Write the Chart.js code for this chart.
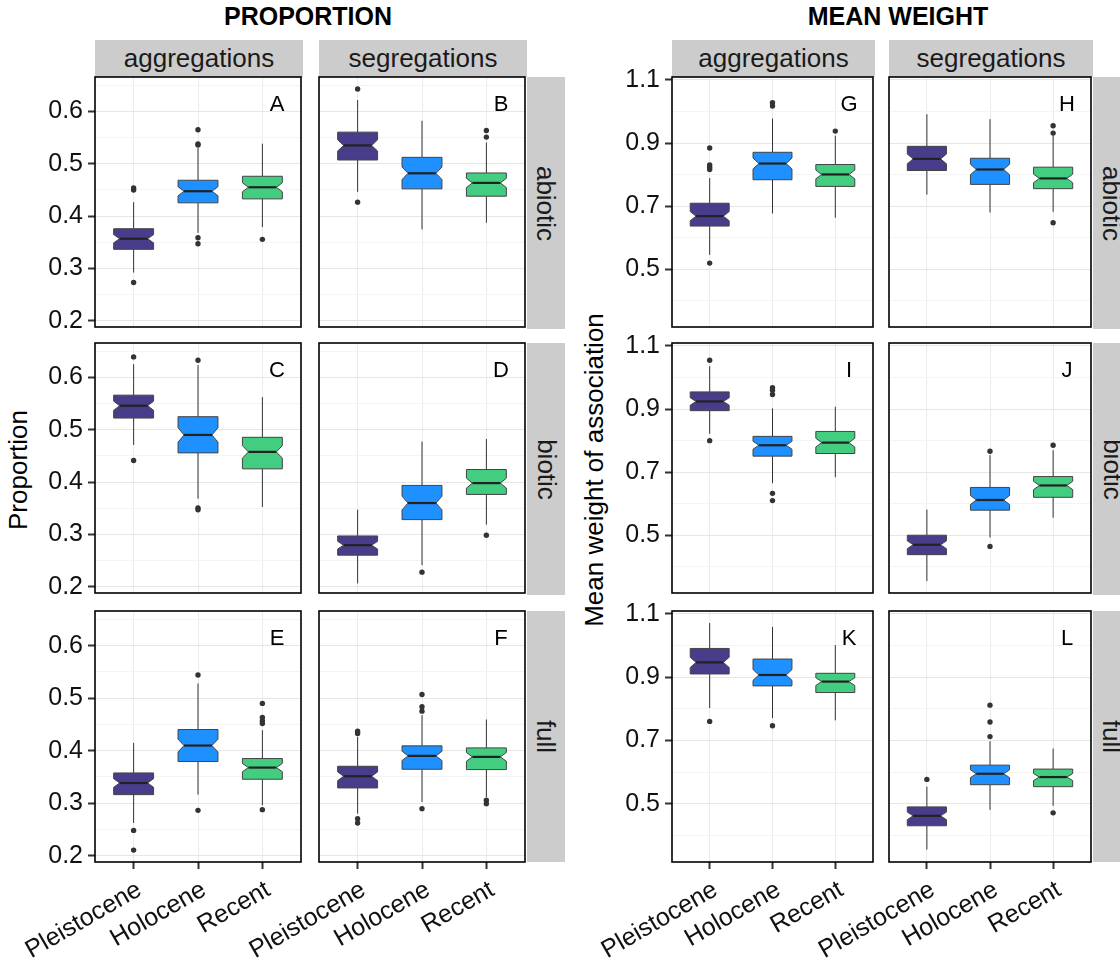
<!DOCTYPE html>
<html>
<head>
<meta charset="utf-8">
<script src="https://cdn.jsdelivr.net/npm/chart.js@4"></script>
<style>
	body { margin: 0; background: #fff; }
	#fig { position: relative; width: 1120px; height: 961px; overflow: hidden; background: #fff;
		font-family: 'Liberation Sans', Arial, sans-serif; color: #1a1a1a; }
	#fig canvas { position: absolute; }
	.strip { position: absolute; background: #cccccc; display: flex; align-items: center;
		justify-content: center; font-size: 26px; white-space: nowrap; }
	.strip.v span { transform: rotate(90deg); }
	.title { position: absolute; top: 4px; line-height: 25px; font-size: 25px; font-weight: bold;
		color: #000; transform: translateX(-50%); white-space: nowrap; }
	.ytitle { position: absolute; font-size: 26px; white-space: nowrap; color: #000;
		transform: translate(-50%, -50%) rotate(-90deg); }
</style>
</head>
<body>
<div id="fig"></div>
<script>
const categories = ['Pleistocene', 'Holocene', 'Recent'];
const boxColors = ['#483D8B', '#1E90FF', '#43CD80'];
const facetCols = ['aggregations', 'segregations'];
const facetRows = ['abiotic', 'biotic', 'full'];
const groupTitles = ['PROPORTION', 'MEAN WEIGHT'];
const axisTitles = ['Proportion', 'Mean weight of association'];
const panelLetters = [['A', 'B', 'C', 'D', 'E', 'F'], ['G', 'H', 'I', 'J', 'K', 'L']];

// y ticks / range per group
const propMajor = [0.2, 0.3, 0.4, 0.5, 0.6];
const propMinor = [0.25, 0.35, 0.45, 0.55, 0.65];
const propRange = [0.188, 0.666];
const weightMajor = [0.5, 0.7, 0.9, 1.1];
const weightMinor = [0.4, 0.6, 0.8, 1.0];
const weightRange = [0.3165, 1.1094];

// boxes: [lower whisker, q1, median, q3, upper whisker] for Pleistocene, Holocene, Recent
const propAbioticAgg = [[0.292, 0.3365, 0.3568, 0.3759, 0.4267], [0.368, 0.4254, 0.4476, 0.4686, 0.530], [0.379, 0.433, 0.4552, 0.4762, 0.5384]];
const propAbioticAggOut = [[0.454, 0.450, 0.273], [0.565, 0.5378, 0.536, 0.3587, 0.3473], [0.3556]];
const propAbioticSeg = [[0.4463, 0.5073, 0.5352, 0.5606, 0.622], [0.3746, 0.4521, 0.4819, 0.5124, 0.5822], [0.3873, 0.4381, 0.4635, 0.4825, 0.541]];
const propAbioticSegOut = [[0.643, 0.4267], [], [0.5638, 0.5511]];
const propBioticAgg = [[0.4711, 0.5225, 0.546, 0.5663, 0.6254], [0.3683, 0.4559, 0.4902, 0.5251, 0.6235], [0.3524, 0.4254, 0.4578, 0.4857, 0.5625]];
const propBioticAggOut = [[0.6394, 0.4413], [0.633, 0.3505, 0.3473], []];
const propBioticSeg = [[0.2063, 0.2603, 0.2794, 0.2971, 0.3473], [0.2413, 0.3283, 0.36, 0.3937, 0.4775], [0.3187, 0.3765, 0.3981, 0.4241, 0.4825]];
const propBioticSegOut = [[], [0.2279], [0.2984]];
const propFullAgg = [[0.2622, 0.3163, 0.3385, 0.3576, 0.4149], [0.3163, 0.3793, 0.4098, 0.4403, 0.5281], [0.2959, 0.3456, 0.3678, 0.385, 0.439]];
const propFullAggOut = [[0.2482, 0.2107], [0.544, 0.2864], [0.49, 0.4632, 0.4568, 0.4518, 0.2877]];
const propFullSeg = [[0.28, 0.329, 0.3513, 0.3703, 0.4263], [0.3023, 0.3646, 0.3901, 0.4092, 0.4677], [0.3118, 0.364, 0.3882, 0.4053, 0.4594]];
const propFullSegOut = [[0.4372, 0.4327, 0.2705, 0.2622], [0.5071, 0.4836, 0.4753, 0.2896], [0.3055, 0.2991]];

const weightAbioticAgg = [[0.5453, 0.6366, 0.6681, 0.709, 0.7888], [0.6765, 0.7835, 0.8349, 0.8706, 0.9776], [0.6629, 0.7625, 0.8003, 0.8318, 0.9231]];
const weightAbioticAggOut = [[0.8843, 0.8307, 0.8234, 0.816, 0.5191], [1.028, 1.0175], [0.9378]];
const weightAbioticSeg = [[0.7363, 0.8129, 0.8496, 0.8895, 0.9913], [0.6796, 0.7688, 0.8161, 0.8517, 0.9756], [0.6817, 0.7552, 0.7877, 0.8234, 0.9231]];
const weightAbioticSegOut = [[], [], [0.9546, 0.9315, 0.6471]];
const weightBioticAgg = [[0.8216, 0.8948, 0.924, 0.9543, 1.0358], [0.6649, 0.7506, 0.7851, 0.8133, 0.9021], [0.6837, 0.7589, 0.7934, 0.8289, 0.9073]];
const weightBioticAggOut = [[1.0547, 0.7997], [0.9679, 0.9596, 0.946, 0.6325, 0.6095], []];
const weightBioticSeg = [[0.3545, 0.4381, 0.4695, 0.4998, 0.5813], [0.4925, 0.5792, 0.6116, 0.6513, 0.7537], [0.5552, 0.62, 0.6576, 0.6858, 0.7694]];
const weightBioticSegOut = [[], [0.7662, 0.4643], [0.7851]];
const weightFullAgg = [[0.8026, 0.9105, 0.9471, 0.9911, 1.0717], [0.7712, 0.8728, 0.9073, 0.9576, 1.0592], [0.7639, 0.8518, 0.8864, 0.9126, 1.0016]];
const weightFullAggOut = [[0.7607], [0.7471], []];
const weightFullSeg = [[0.3555, 0.4309, 0.4623, 0.4906, 0.5545], [0.4812, 0.5607, 0.5953, 0.6225, 0.6979], [0.4937, 0.5545, 0.5848, 0.61, 0.6749]];
const weightFullSegOut = [[0.5775], [0.812, 0.7586, 0.7126], [0.4717]];

// layout (px)
const groupPanelX = [[95, 319], [672, 889]];
const groupPanelW = [[208, 208], [203, 204]];
const groupStripX = [527, 1093];
const groupTitleX = [308, 898];
const axisTitleX = [18, 594];
const rowY = [77, 343, 611];
const rowH = [252, 252, 251];
const stripTop = 40;
const boxWidth = 0.62; // in category units
const notchDepth = 0.2; // notch half-height as share of IQR
const notchInset = 0.3; // notch inset as share of half box width

const groups = [
	{ major: propMajor, minor: propMinor, range: propRange,
		boxes: [[propAbioticAgg, propAbioticSeg], [propBioticAgg, propBioticSeg], [propFullAgg, propFullSeg]],
		outs: [[propAbioticAggOut, propAbioticSegOut], [propBioticAggOut, propBioticSegOut], [propFullAggOut, propFullSegOut]] },
	{ major: weightMajor, minor: weightMinor, range: weightRange,
		boxes: [[weightAbioticAgg, weightAbioticSeg], [weightBioticAgg, weightBioticSeg], [weightFullAgg, weightFullSeg]],
		outs: [[weightAbioticAggOut, weightAbioticSegOut], [weightBioticAggOut, weightBioticSegOut], [weightFullAggOut, weightFullSegOut]] },
];

const fig = document.getElementById('fig');

function addDiv(cls, text, css) {
	const d = document.createElement('div');
	d.className = cls;
	if (cls.includes('v')) {
		const s = document.createElement('span');
		s.textContent = text;
		d.appendChild(s);
	} else {
		d.textContent = text;
	}
	Object.assign(d.style, css);
	fig.appendChild(d);
}

function boxPlugin(boxes, letter) {
	return {
		id: 'notchedBoxes',
		beforeDatasetsDraw(chart) {
			const { ctx, scales: { x, y } } = chart;
			boxes.forEach((b, i) => {
				const [lo, q1, med, q3, hi] = b;
				const cx = x.getPixelForValue(i + 1);
				const hw = x.getPixelForValue(i + 1 + boxWidth / 2) - cx;
				const nh = notchDepth * (q3 - q1);
				const nx = hw * notchInset;
				const yq1 = y.getPixelForValue(q1), yq3 = y.getPixelForValue(q3), ym = y.getPixelForValue(med);
				const yn1 = y.getPixelForValue(med + nh), yn2 = y.getPixelForValue(med - nh);
				ctx.save();
				ctx.strokeStyle = '#333';
				ctx.lineWidth = 1;
				ctx.beginPath();
				ctx.moveTo(cx, y.getPixelForValue(hi));
				ctx.lineTo(cx, yq3);
				ctx.moveTo(cx, yq1);
				ctx.lineTo(cx, y.getPixelForValue(lo));
				ctx.stroke();

				ctx.beginPath();
				ctx.moveTo(cx - hw, yq3);
				ctx.lineTo(cx + hw, yq3);
				ctx.lineTo(cx + hw, yn1);
				ctx.lineTo(cx + hw - nx, ym);
				ctx.lineTo(cx + hw, yn2);
				ctx.lineTo(cx + hw, yq1);
				ctx.lineTo(cx - hw, yq1);
				ctx.lineTo(cx - hw, yn2);
				ctx.lineTo(cx - hw + nx, ym);
				ctx.lineTo(cx - hw, yn1);
				ctx.closePath();
				ctx.fillStyle = boxColors[i];
				ctx.fill();
				ctx.strokeStyle = '#444';
				ctx.stroke();

				ctx.strokeStyle = '#222';
				ctx.lineWidth = 2.2;
				ctx.beginPath();
				ctx.moveTo(cx - hw + nx, ym);
				ctx.lineTo(cx + hw - nx, ym);
				ctx.stroke();
				ctx.restore();
			});
		},
		afterDraw(chart) {
			const { ctx, chartArea: a } = chart;
			ctx.save();
			ctx.strokeStyle = '#000';
			ctx.lineWidth = 1.6;
			ctx.strokeRect(a.left, a.top, a.right - a.left, a.bottom - a.top);
			ctx.fillStyle = '#000';
			ctx.font = "22px 'Liberation Sans', Arial, sans-serif";
			ctx.textAlign = 'center';
			ctx.textBaseline = 'middle';
			ctx.fillText(letter, a.right - 24, a.top + 28);
			ctx.restore();
		},
	};
}

function makePanel(g, r, c) {
	const grp = groups[g];
	const showY = c === 0;
	const showX = r === 2;
	const px = groupPanelX[g][c], pw = groupPanelW[g][c];
	const py = rowY[r], ph = rowH[r];
	const left = 100, top = 16, xh = showX ? 100 : 0;
	const canvas = document.createElement('canvas');
	canvas.width = left + pw + 2;
	canvas.height = top + ph + (showX ? xh : 2);
	canvas.style.left = (px - left) + 'px';
	canvas.style.top = (py - top) + 'px';
	fig.appendChild(canvas);

	const boxes = grp.boxes[r][c];
	const outPts = [];
	grp.outs[r][c].forEach((vals, i) => vals.forEach((v) => outPts.push({ x: i + 1, y: v })));
	const yTicks = grp.major.concat(grp.minor).sort((a, b) => a - b);
	const isMajor = (v) => grp.major.includes(v);

	new Chart(canvas, {
		type: 'scatter',
		data: {
			datasets: [{
				data: outPts,
				pointRadius: 2.7,
				pointBackgroundColor: '#333',
				pointBorderWidth: 0,
				clip: false,
			}],
		},
		options: {
			responsive: false,
			animation: false,
			devicePixelRatio: 1,
			events: [],
			layout: { padding: { top: top, right: 2, left: 0, bottom: showX ? 0 : 2 } },
			plugins: { legend: { display: false }, tooltip: { enabled: false } },
			scales: {
				x: {
					type: 'linear',
					position: 'bottom',
					min: 0.4,
					max: 3.6,
					bounds: 'data',
					afterBuildTicks: (s) => { s.ticks = categories.map((cat, i) => ({ value: i + 1 })); },
					afterFit: (s) => { s.height = xh; s.paddingLeft = 0; s.paddingRight = 0; },
					grid: { color: '#EBEBEB', lineWidth: 1, drawTicks: showX, tickLength: 7, tickWidth: 2, tickColor: '#333' },
					border: { display: false },
					ticks: {
						display: showX,
						autoSkip: false,
						minRotation: 30,
						maxRotation: 30,
						padding: 6,
						labelOffset: 6,
						color: '#111',
						font: { size: 25 },
						callback: (v) => categories[v - 1],
					},
				},
				y: {
					type: 'linear',
					position: 'left',
					min: grp.range[0],
					max: grp.range[1],
					bounds: 'data',
					afterBuildTicks: (s) => { s.ticks = yTicks.map((v) => ({ value: v })); },
					afterFit: (s) => { s.width = left; s.paddingTop = 0; s.paddingBottom = 0; },
					grid: {
						color: (ctx) => (ctx.tick && isMajor(ctx.tick.value) ? '#E6E6E6' : '#F4F4F4'),
						lineWidth: 1,
						drawTicks: showY,
						tickLength: 7,
						tickWidth: 2,
						tickColor: (ctx) => (ctx.tick && isMajor(ctx.tick.value) ? '#333' : 'rgba(0,0,0,0)'),
					},
					border: { display: false },
					ticks: {
						display: showY,
						autoSkip: false,
						padding: 5,
						color: '#111',
						font: { size: 25 },
						callback: (v) => (isMajor(v) ? v.toFixed(1) : ''),
					},
				},
			},
		},
		plugins: [boxPlugin(boxes, panelLetters[g][r * 2 + c])],
	});
}

Chart.defaults.font.family = "'Liberation Sans', Arial, sans-serif";

groups.forEach((grp, g) => {
	addDiv('title', groupTitles[g], { left: groupTitleX[g] + 'px' });
	addDiv('ytitle', axisTitles[g], { left: axisTitleX[g] + 'px', top: '470px' });
	facetCols.forEach((name, c) => {
		addDiv('strip', name, {
			left: groupPanelX[g][c] + 'px', top: stripTop + 'px',
			width: groupPanelW[g][c] + 'px', height: (rowY[0] - stripTop) + 'px',
		});
	});
	facetRows.forEach((name, r) => {
		addDiv('strip v', name, {
			left: groupStripX[g] + 'px', top: rowY[r] + 'px', width: '38px', height: rowH[r] + 'px',
		});
		facetCols.forEach((col, c) => makePanel(g, r, c));
	});
});
</script>
</body>
</html>
